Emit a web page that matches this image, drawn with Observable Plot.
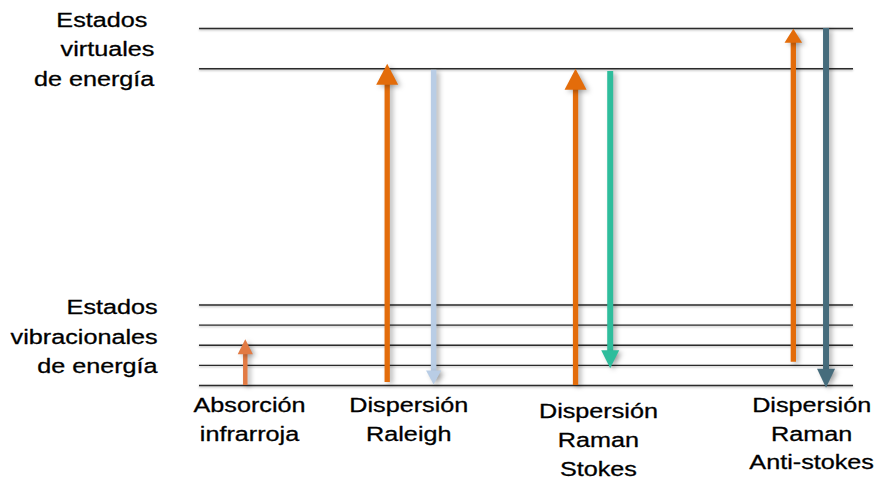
<!DOCTYPE html>
<html><head><meta charset="utf-8">
<script src="https://cdn.jsdelivr.net/npm/d3@7"></script>
<script src="https://cdn.jsdelivr.net/npm/@observablehq/plot@0.6"></script>
<style>
html,body{margin:0;padding:0;background:#fff;}
</style>
</head><body><div id="chart"></div>
<script>
// Energy levels (arbitrary energy units): 5 vibrational + 2 virtual
const levels = [0, 1, 2, 3, 4, 15.75, 17.75];
const levelSpan = [0, 10];

// Transitions
const arrowIds  = ["ir", "rayUp", "rayDown", "stokesUp", "stokesDown", "antiUp", "antiDown"];
const arrowX    = [0.70, 2.87, 3.58, 5.75, 6.28, 9.08, 9.58];
const arrowFrom = [0, 0.15, 15.67, 0, 15.61, 1.16, 17.75];
const arrowTo   = [2.3, 16.0, 0.05, 15.75, 0.86, 17.74, -0.11];

// Process labels
const processLabels = ["Absorción\ninfrarroja", "Dispersión\nRaleigh", "Dispersión\nRaman\nStokes", "Dispersión\nRaman\nAnti-stokes"];
const processX = [0.765, 3.2, 6.1, 9.36];
const processY = [-0.3, -0.3, -0.6, -0.3];

// State labels
const stateLabels = ["Estados\u00a0\nvirtuales\nde energía", "Estados\nvibracionales\nde energía"];
const stateX = [-0.69, -0.64];
const stateY = [18.9, 4.62];

// Styles per arrow (kept apart from data)
const arrowStyle = {
  ir:         {color: "#E27A43", w: 4.5, r: 7.6, len: 15},
  rayUp:      {color: "#E36C0A", w: 5.3, r: 11,  len: 21},
  rayDown:    {color: "#B9CDE5", w: 5.5, r: 7.6, len: 14},
  stokesUp:   {color: "#E36C0A", w: 5.3, r: 11,  len: 21},
  stokesDown: {color: "#2EBD9C", w: 6,   r: 9,   len: 18},
  antiUp:     {color: "#E36C0A", w: 5.3, r: 8.8, len: 14},
  antiDown:   {color: "#466C7C", w: 6,   r: 9,   len: 19}
};

const marks = [
  Plot.ruleY(levels, {x1: levelSpan[0], x2: levelSpan[1], stroke: "#2b2b2b", strokeWidth: 1.4})
];

arrowIds.forEach((id, i) => {
  const s = arrowStyle[id];
  const up = arrowTo[i] > arrowFrom[i];
  marks.push(Plot.ruleX([i], {
    x: d => arrowX[d],
    y1: d => Math.max(arrowFrom[d], arrowTo[d]),
    y2: d => Math.min(arrowFrom[d], arrowTo[d]),
    stroke: s.color, strokeWidth: s.w,
    insetTop: up ? s.len * 0.6 : 0, insetBottom: up ? 0 : s.len * 0.6
  }));
  marks.push(Plot.vector([i], {
    x: d => arrowX[d], y: d => arrowTo[d],
    shape: "spike", anchor: "end", length: s.len, r: s.r,
    rotate: up ? 0 : 180, fill: s.color, stroke: "none"
  }));
});

marks.push(Plot.text(processLabels, {
  x: (d, i) => processX[i], y: (d, i) => processY[i], text: d => d,
  textAnchor: "middle", lineAnchor: "top", fontSize: 21, lineHeight: 1.37,
  fill: "#000", stroke: "#000", strokeWidth: 0.3
}));
marks.push(Plot.text(stateLabels, {
  x: (d, i) => stateX[i], y: (d, i) => stateY[i], text: d => d,
  textAnchor: "end", lineAnchor: "top", fontSize: 21, lineHeight: 1.42,
  fill: "#000", stroke: "#000", strokeWidth: 0.3
}));

const svg = Plot.plot({
  width: 876, height: 482,
  marginLeft: 199, marginRight: 23, marginTop: 28, marginBottom: 97,
  x: {domain: levelSpan},
  y: {domain: [0, 17.75]},
  axis: null,
  style: {fontFamily: "'Liberation Sans', Arial, Helvetica, sans-serif", background: "#fff", overflow: "visible"},
  marks
});

// Slightly wide lettering as in the reference
d3.select(svg).selectAll('g[aria-label="text"] text').each(function() {
  const t = this.getAttribute("transform") || "";
  this.setAttribute("transform", t + " scale(1.2,1)");
});
// Shadows
const rules = d3.select(svg).selectAll('g[aria-label="rule"]').nodes();
rules.forEach((n, k) => {
  n.style.filter = k === 0
    ? "drop-shadow(0px 1.5px 1px rgba(0,0,0,0.3))"
    : "drop-shadow(3px 2px 2.5px rgba(0,0,0,0.28))";
});
d3.select(svg).selectAll('g[aria-label="vector"]').style("filter", "drop-shadow(3px 2px 2.5px rgba(0,0,0,0.28))");

document.getElementById("chart").appendChild(svg);
</script>
</body></html>
